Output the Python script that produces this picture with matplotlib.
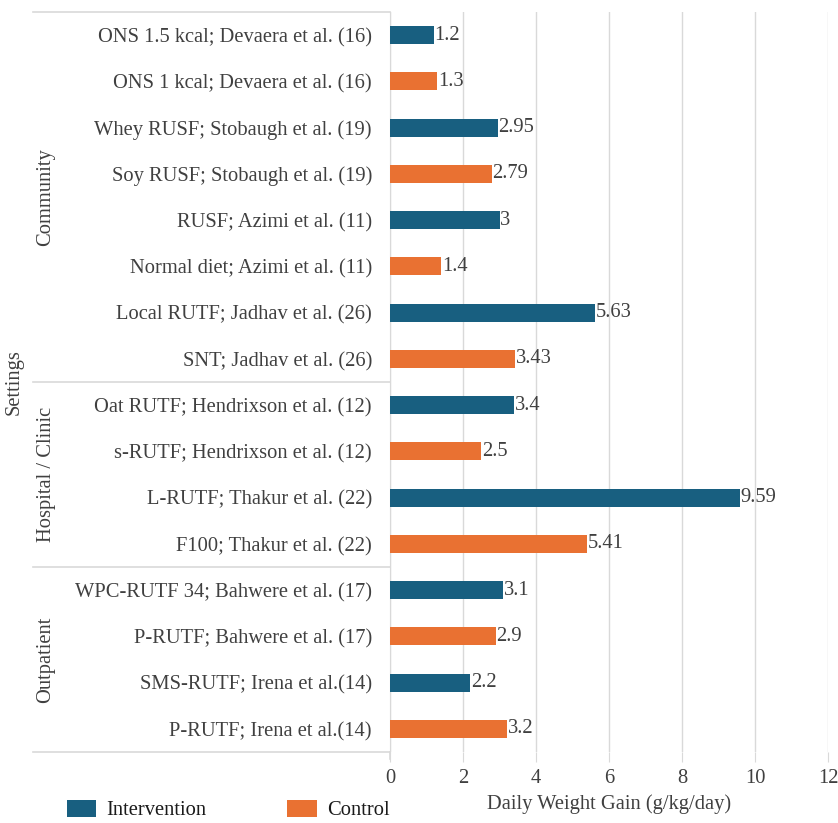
import numpy as np
import matplotlib
matplotlib.use("Agg")
import matplotlib.pyplot as plt
from matplotlib.patches import Patch

plt.rcParams["font.family"] = ["Liberation Serif", "DejaVu Serif"]

labels = [
    "ONS 1.5 kcal; Devaera et al. (16)",
    "ONS 1 kcal; Devaera et al. (16)",
    "Whey RUSF; Stobaugh et al. (19)",
    "Soy RUSF; Stobaugh et al. (19)",
    "RUSF; Azimi et al. (11)",
    "Normal diet; Azimi et al. (11)",
    "Local RUTF; Jadhav et al. (26)",
    "SNT; Jadhav et al. (26)",
    "Oat RUTF; Hendrixson et al. (12)",
    "s-RUTF; Hendrixson et al. (12)",
    "L-RUTF; Thakur et al. (22)",
    "F100; Thakur et al. (22)",
    "WPC-RUTF 34; Bahwere et al. (17)",
    "P-RUTF; Bahwere et al. (17)",
    "SMS-RUTF; Irena et al.(14)",
    "P-RUTF; Irena et al.(14)",
]
gains = [1.2, 1.3, 2.95, 2.79, 3, 1.4, 5.63, 3.43,
         3.4, 2.5, 9.59, 5.41, 3.1, 2.9, 2.2, 3.2]
arm = ["Intervention", "Control"] * 8

groups = ["Community", "Hospital / Clinic", "Outpatient"]
group_sizes = [8, 4, 4]

BLUE = "#185f80"
ORANGE = "#e97132"
GRID = "#d9d9d9"
TEXT = "#404040"
FS = 14.8

W, H = 838, 823
fig = plt.figure(figsize=(W / 100, H / 100), dpi=100)
ax = fig.add_axes([390 / W, 1 - 752 / H, 438 / W, 740 / H])

y = np.arange(len(labels))
colors = [BLUE if a == "Intervention" else ORANGE for a in arm]
bars = ax.barh(y, gains, height=0.39, color=colors, zorder=3)

for b, v in zip(bars, gains):
    ax.text(b.get_width() + 0.02, b.get_y() + b.get_height() / 2, f"{v:g}",
            va="center", ha="left", fontsize=FS, color=TEXT, zorder=4)

ax.set_xlim(0, 12)
ax.set_ylim(len(labels) - 0.5, -0.5)
ax.set_xticks(np.arange(0, 13, 2))
ax.set_yticks(y)
ax.set_yticklabels(labels, fontsize=FS, color=TEXT)
ax.tick_params(axis="y", length=0, pad=13)
ax.tick_params(axis="x", length=7, color=GRID, labelsize=FS,
               labelcolor=TEXT, pad=5)
ax.grid(axis="x", color=GRID, linewidth=1, zorder=0)

for s in ["top", "right", "bottom"]:
    ax.spines[s].set_visible(False)
ax.spines["left"].set_color(GRID)
ax.spines["left"].set_bounds(len(labels) - 0.5, -0.5)

ax.set_xlabel("Daily Weight Gain (g/kg/day)", fontsize=FS, color=TEXT,
              labelpad=5)

# table lines on the category side
tr = ax.get_yaxis_transform()
x0 = (33 - 390) / 438
edges = np.concatenate([[0], np.cumsum(group_sizes)]) - 0.5
for e in edges:
    ax.plot([x0, 0], [e, e], transform=tr, color=GRID, lw=1.2,
            clip_on=False)
ax.plot([0, 0], [edges[-1], edges[-1] + 0.16], transform=tr, color=GRID,
        lw=1.2, clip_on=False)

gx = (46 - 390) / 438
for name, lo, hi in zip(groups, edges[:-1], edges[1:]):
    ax.text(gx, (lo + hi) / 2, name, transform=tr, rotation=90,
            ha="center", va="center", fontsize=FS, color=TEXT)

ax.text((14 - 390) / 438, (edges[0] + edges[-1]) / 2, "Settings",
        transform=tr, rotation=90, ha="center", va="center", fontsize=FS,
        color=TEXT)

handles = [Patch(facecolor=BLUE), Patch(facecolor=ORANGE)]
fig.legend(handles, ["Intervention", "Control"], loc="lower left",
           bbox_to_anchor=(48 / W, -0.019), ncol=2, frameon=False,
           fontsize=FS, handlelength=1.45, handleheight=0.9,
           columnspacing=3.9, handletextpad=0.5, labelcolor="#1a1a1a")

fig.savefig("out.png", dpi=100)
